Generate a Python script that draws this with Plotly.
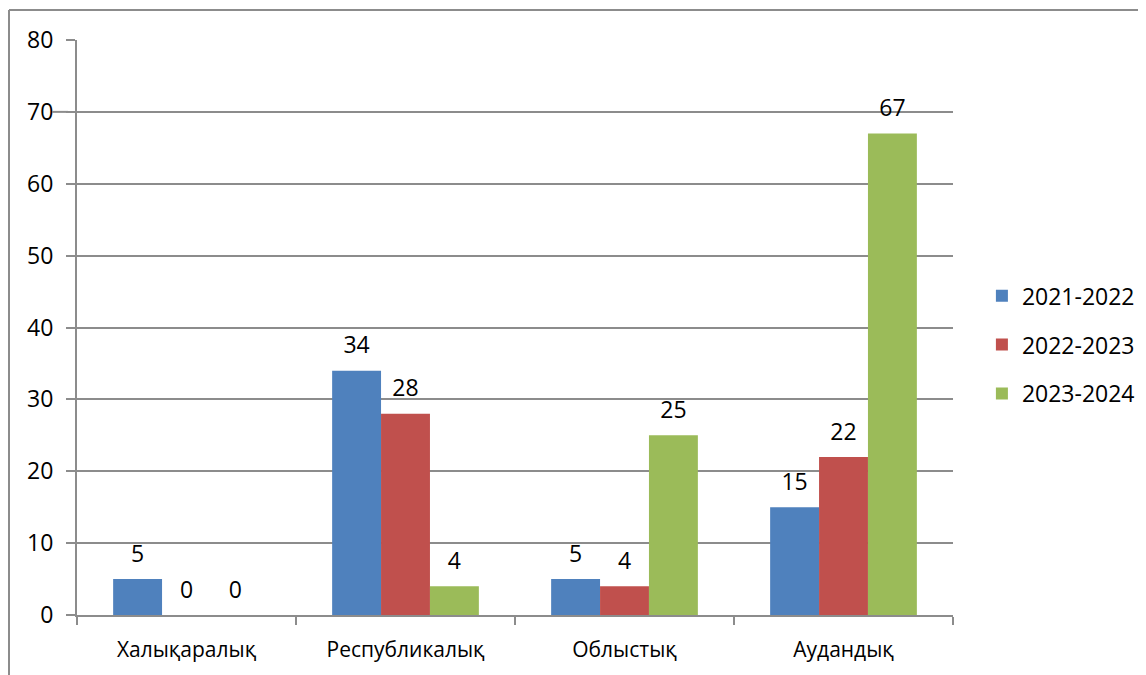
import plotly.graph_objects as go

categories = ["Халықаралық", "Республикалық", "Облыстық", "Аудандық"]
series_names = ["2021-2022", "2022-2023", "2023-2024"]
values_2021 = [5, 34, 5, 15]
values_2022 = [0, 28, 4, 22]
values_2023 = [0, 4, 25, 67]
colors = ["#4F81BD", "#C0504D", "#9BBB59"]
y_ticks = [0, 10, 20, 30, 40, 50, 60, 70, 80]

FONT = "Open Sans, Noto Sans, DejaVu Sans, sans-serif"
FS_NUM = 23
FS_CAT = 21
GRID = "#8C8C8C"

# page body has an 8px offset; plot area on screen spans x 77..953, y 40..615
L, T = 69, 32
PW, PH = 876, 575

fig = go.Figure()
all_vals = [values_2021, values_2022, values_2023]
for i, (name, vals) in enumerate(zip(series_names, all_vals)):
    fig.add_trace(go.Bar(
        x=categories, y=vals, name=name, marker_color=colors[i],
        marker_line_width=0, legendgroup=name,
    ))
for i, (name, vals) in enumerate(zip(series_names, all_vals)):
    fig.add_trace(go.Scatter(
        x=categories, y=vals, mode="markers+text", text=[str(v) for v in vals],
        textposition="top center", marker=dict(size=17, opacity=0),
        textfont=dict(family=FONT, size=FS_NUM, color="black"),
        showlegend=False, hoverinfo="skip", cliponaxis=False,
    ))

fig.update_layout(
    width=1146, height=675,
    margin=dict(l=L, r=1146 - L - PW, t=T, b=675 - T - PH),
    paper_bgcolor="white", plot_bgcolor="white",
    barmode="group", bargap=0.33, bargroupgap=0,
    scattermode="group", scattergap=0.33,
    font=dict(family=FONT, size=FS_NUM, color="black"),
    legend=dict(x=1.033, xanchor="left", y=0.47, yanchor="middle",
                tracegroupgap=16, itemwidth=30,
                font=dict(family=FONT, size=FS_NUM, color="black")),
    showlegend=True,
)
fig.update_xaxes(
    showline=True, linecolor=GRID, linewidth=2,
    ticks="outside", tickson="boundaries", ticklen=8, tickcolor=GRID, tickwidth=2,
    showgrid=False, tickfont=dict(family=FONT, size=FS_CAT, color="black"),
    ticklabelstandoff=15,
)
fig.update_yaxes(
    range=[0, 80], tickvals=y_ticks, showline=True, linecolor=GRID, linewidth=2,
    ticks="outside", ticklen=9, tickcolor=GRID, tickwidth=2,
    showgrid=True, gridcolor=GRID, gridwidth=2, zeroline=False,
    tickfont=dict(family=FONT, size=FS_NUM, color="black"), ticklabelstandoff=8,
)
# outer chart border (left and top)
bx = (1 - L) / PW
by = (PH + T - 2) / PH
fig.add_shape(type="line", xref="paper", yref="paper",
              x0=bx, x1=bx, y0=by, y1=-(675 - T - PH + 5) / PH,
              line=dict(color=GRID, width=2))
fig.add_shape(type="line", xref="paper", yref="paper",
              x0=bx, x1=(1146 - L) / PW, y0=by, y1=by,
              line=dict(color=GRID, width=2))
# small extension of the 70 gridline to the left, as in the original
fig.add_shape(type="line", xref="paper", yref="y",
              x0=-25 / PW, x1=-9 / PW, y0=70, y1=70,
              line=dict(color=GRID, width=2))

fig.write_html("out.html")
